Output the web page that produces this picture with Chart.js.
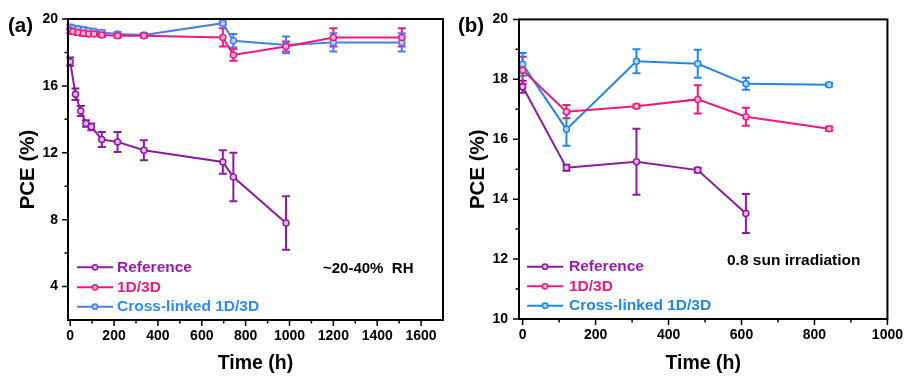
<!DOCTYPE html>
<html><head><meta charset="utf-8">
<script src="https://cdn.jsdelivr.net/npm/chart.js@4.4.0/dist/chart.umd.min.js"></script>
<style>
html,body{margin:0;padding:0;background:#fff;width:911px;height:376px;overflow:hidden;position:relative;font-family:'Liberation Sans',Arial,sans-serif;}
canvas{position:absolute;top:0;}
#ca{left:0;}
#cb{left:455px;}
.lbl{position:absolute;font-weight:bold;color:#000;white-space:nowrap;line-height:1;}
</style></head><body>
<canvas id="ca" width="455" height="376"></canvas>
<canvas id="cb" width="456" height="376"></canvas>
<div class="lbl" style="left:8px;top:15px;font-size:20.5px">(a)</div>
<div class="lbl" style="left:458px;top:15px;font-size:20.5px">(b)</div>
<div class="lbl" style="left:323px;top:260px;font-size:15px">~20-40%&nbsp; RH</div>
<div class="lbl" style="left:727px;top:252px;font-size:15.5px">0.8 sun irradiation</div>
<script>
// ---------- Data: panel (a), ~20-40% RH ----------
const seriesNames = ['Reference', '1D/3D', 'Cross-linked 1D/3D'];
const timeA_ref = [0, 24, 48, 72, 96, 144, 216, 336, 696, 744, 984];
const pceA_ref  = [17.45, 15.5, 14.5, 13.75, 13.55, 12.8, 12.65, 12.15, 11.45, 10.55, 7.8];
const errA_ref  = [0.25, 0.35, 0.3, 0.2, 0.2, 0.45, 0.6, 0.6, 0.7, 1.45, 1.6];
const timeA_1d  = [0, 12, 36, 60, 84, 108, 144, 216, 336, 696, 744, 984, 1200, 1512];
const pceA_1d   = [19.3, 19.25, 19.2, 19.15, 19.1, 19.1, 19.05, 19.0, 19.0, 18.9, 17.85, 18.35, 18.9, 18.9];
const errA_1d   = [0.15, 0.15, 0.15, 0.15, 0.12, 0.12, 0.12, 0.12, 0.1, 0.55, 0.35, 0.3, 0.55, 0.55];
const timeA_cl  = [0, 12, 36, 60, 84, 108, 144, 216, 336, 696, 744, 984, 1200, 1512];
const pceA_cl   = [19.5, 19.45, 19.4, 19.35, 19.3, 19.25, 19.2, 19.1, 19.05, 19.75, 18.7, 18.45, 18.6, 18.6];
const errA_cl   = [0.15, 0.15, 0.15, 0.15, 0.12, 0.12, 0.12, 0.12, 0.1, 0.1, 0.4, 0.5, 0.55, 0.55];
const xTicksA = [0, 200, 400, 600, 800, 1000, 1200, 1400, 1600];
const xMinorA = [100, 300, 500, 700, 900, 1100, 1300, 1500];
const yTicksA = [4, 8, 12, 16, 20];
const yMinorA = [6, 10, 14, 18];

// ---------- Data: panel (b), 0.8 sun irradiation ----------
const timeB_ref = [0, 120, 312, 480, 612];
const pceB_ref  = [17.75, 15.05, 15.25, 14.97, 13.52];
const errB_ref  = [0.2, 0.1, 1.1, 0.08, 0.65];
const timeB_1d  = [0, 120, 312, 480, 612, 840];
const pceB_1d   = [18.3, 16.92, 17.1, 17.33, 16.75, 16.35];
const errB_1d   = [0.45, 0.22, 0.06, 0.47, 0.3, 0.07];
const timeB_cl  = [0, 120, 312, 480, 612, 840];
const pceB_cl   = [18.5, 16.33, 18.6, 18.52, 17.85, 17.82];
const errB_cl   = [0.38, 0.55, 0.4, 0.47, 0.2, 0.06];
const xTicksB = [0, 200, 400, 600, 800, 1000];
const xMinorB = [100, 300, 500, 700, 900];
const yTicksB = [10, 12, 14, 16, 18, 20];
const yMinorB = [11, 13, 15, 17, 19];

const FONT = "'Liberation Sans', Arial, sans-serif";

function pts(xs, ys) { return xs.map((x, i) => ({x: x, y: ys[i]})); }

function ds(label, xs, ys, errs, color, fill, textColor) {
  return {
    label: label, data: pts(xs, ys), errors: errs, textColor: textColor,
    borderColor: color, backgroundColor: color, borderWidth: 2,
    pointRadius: 3, pointHoverRadius: 3, pointBorderWidth: 1.5,
    pointBackgroundColor: fill, pointBorderColor: color,
    tension: 0, fill: false
  };
}

const errorBars = {
  id: 'errorBars',
  beforeDatasetsDraw(chart) {
    const ctx = chart.ctx, y = chart.scales.y;
    ctx.save();
    chart.data.datasets.forEach((d, di) => {
      const meta = chart.getDatasetMeta(di);
      ctx.strokeStyle = d.borderColor; ctx.lineWidth = 2;
      meta.data.forEach((p, i) => {
        const e = d.errors[i]; const v = d.data[i].y;
        const y1 = y.getPixelForValue(v + e), y2 = y.getPixelForValue(v - e);
        ctx.beginPath();
        ctx.moveTo(p.x, y1); ctx.lineTo(p.x, y2);
        ctx.moveTo(p.x - 4, y1); ctx.lineTo(p.x + 4, y1);
        ctx.moveTo(p.x - 4, y2); ctx.lineTo(p.x + 4, y2);
        ctx.stroke();
      });
    });
    ctx.restore();
  }
};

const frameTicks = {
  id: 'frameTicks',
  afterDraw(chart, args, o) {
    const {ctx, chartArea: {left, right, top, bottom}} = chart;
    const x = chart.scales.x, y = chart.scales.y;
    ctx.save();
    ctx.strokeStyle = '#000';
    ctx.lineWidth = 1.5;
    ctx.beginPath();
    o.xMajor.forEach(v => { const p = x.getPixelForValue(v); ctx.moveTo(p, bottom); ctx.lineTo(p, bottom + 6); });
    o.xMinor.forEach(v => { const p = x.getPixelForValue(v); ctx.moveTo(p, bottom); ctx.lineTo(p, bottom + 3.5); });
    o.yMajor.forEach(v => { const p = y.getPixelForValue(v); ctx.moveTo(left, p); ctx.lineTo(left - 6, p); });
    o.yMinor.forEach(v => { const p = y.getPixelForValue(v); ctx.moveTo(left, p); ctx.lineTo(left - 3.5, p); });
    ctx.stroke();
    ctx.lineWidth = 2;
    ctx.strokeRect(left, top, right - left, bottom - top);
    ctx.restore();
  }
};

const innerLegend = {
  id: 'innerLegend',
  afterDraw(chart, args, o) {
    const ctx = chart.ctx;
    ctx.save();
    chart.data.datasets.forEach((d, i) => {
      const yy = o.ys[i];
      ctx.strokeStyle = d.borderColor; ctx.lineWidth = 2;
      ctx.beginPath(); ctx.moveTo(o.x0, yy); ctx.lineTo(o.x1, yy); ctx.stroke();
      ctx.fillStyle = d.pointBackgroundColor; ctx.lineWidth = 1.5;
      ctx.beginPath(); ctx.arc((o.x0 + o.x1) / 2, yy, 2.6, 0, Math.PI * 2); ctx.fill(); ctx.stroke();
      ctx.fillStyle = d.textColor;
      ctx.font = 'bold 15.5px ' + FONT;
      ctx.textBaseline = 'middle'; ctx.textAlign = 'left';
      ctx.fillText(d.label, o.tx, yy + 0.5);
    });
    ctx.restore();
  }
};

function makeChart(id, datasets, c) {
  const tickFont = {family: FONT, size: 14, weight: 'bold'};
  return new Chart(document.getElementById(id), {
    type: 'line',
    data: {datasets: datasets},
    plugins: [errorBars, frameTicks, innerLegend],
    options: {
      responsive: false, animation: false, devicePixelRatio: 1,
      layout: {padding: {left: 0, right: c.padRight, top: c.padTop, bottom: 0}},
      plugins: {
        legend: {display: false}, tooltip: {enabled: false},
        frameTicks: {xMajor: c.xMajor, xMinor: c.xMinor, yMajor: c.yMajor, yMinor: c.yMinor},
        innerLegend: c.legend
      },
      scales: {
        x: {
          type: 'linear', min: c.xMin, max: c.xMax,
          afterBuildTicks: s => { s.ticks = c.xMajor.map(v => ({value: v})); },
          afterFit: s => { s.height = c.xHeight; },
          grid: {display: false, drawTicks: false, tickLength: 0},
          border: {display: false},
          ticks: {font: tickFont, color: '#000', padding: 8, maxRotation: 0, autoSkip: false,
                  callback: v => String(v)},
          title: {display: true, text: 'Time (h)', color: '#000',
                  font: {family: FONT, size: 19.5, weight: 'bold'}, padding: {top: 0, bottom: 1}}
        },
        y: {
          type: 'linear', min: c.yMin, max: c.yMax,
          afterBuildTicks: s => { s.ticks = c.yMajor.map(v => ({value: v})); },
          afterFit: s => { s.width = c.yWidth; },
          grid: {display: false, drawTicks: false, tickLength: 0},
          border: {display: false},
          ticks: {font: tickFont, color: '#000', padding: c.yPad, autoSkip: false,
                  callback: v => String(v)},
          title: {display: true, text: 'PCE (%)', color: '#000',
                  font: {family: FONT, size: 20.5, weight: 'bold'}, padding: {top: c.yTitlePad, bottom: 0}}
        }
      }
    }
  });
}

const PURPLE = '#8E1A9E', PINK = '#F2177C', BLUE_A = '#4C7CF0', BLUE_B = '#1E88E8';

makeChart('ca', [
  ds(seriesNames[0], timeA_ref, pceA_ref, errA_ref, PURPLE, '#E4B8EC', '#9A1CA8'),
  ds(seriesNames[1], timeA_1d, pceA_1d, errA_1d, PINK, '#FBB8D6', '#F0197D'),
  ds(seriesNames[2], timeA_cl, pceA_cl, errA_cl, BLUE_A, '#BBCDF9', '#2D8CF0')
], {
  padRight: 12, padTop: 19, xHeight: 56, yWidth: 68, yPad: 10, yTitlePad: 16.5,
  xMin: -10, xMax: 1700, yMin: 2, yMax: 20,
  xMajor: xTicksA, xMinor: xMinorA, yMajor: yTicksA, yMinor: yMinorA,
  legend: {x0: 77, x1: 113, tx: 117, ys: [267.3, 287.3, 306.7]}
});

makeChart('cb', [
  ds(seriesNames[0], timeB_ref, pceB_ref, errB_ref, PURPLE, '#E4B8EC', '#9A1CA8'),
  ds(seriesNames[1], timeB_1d, pceB_1d, errB_1d, PINK, '#FBB8D6', '#F0197D'),
  ds(seriesNames[2], timeB_cl, pceB_cl, errB_cl, BLUE_B, '#B5D8F8', '#1E88E8')
], {
  padRight: 18, padTop: 18, xHeight: 57, yWidth: 64, yPad: 11, yTitlePad: 11.5,
  xMin: -10, xMax: 1000, yMin: 10, yMax: 20,
  xMajor: xTicksB, xMinor: xMinorB, yMajor: yTicksB, yMinor: yMinorB,
  legend: {x0: 72, x1: 108, tx: 114, ys: [266.7, 286.3, 305.7]}
});
</script>
</body></html>
